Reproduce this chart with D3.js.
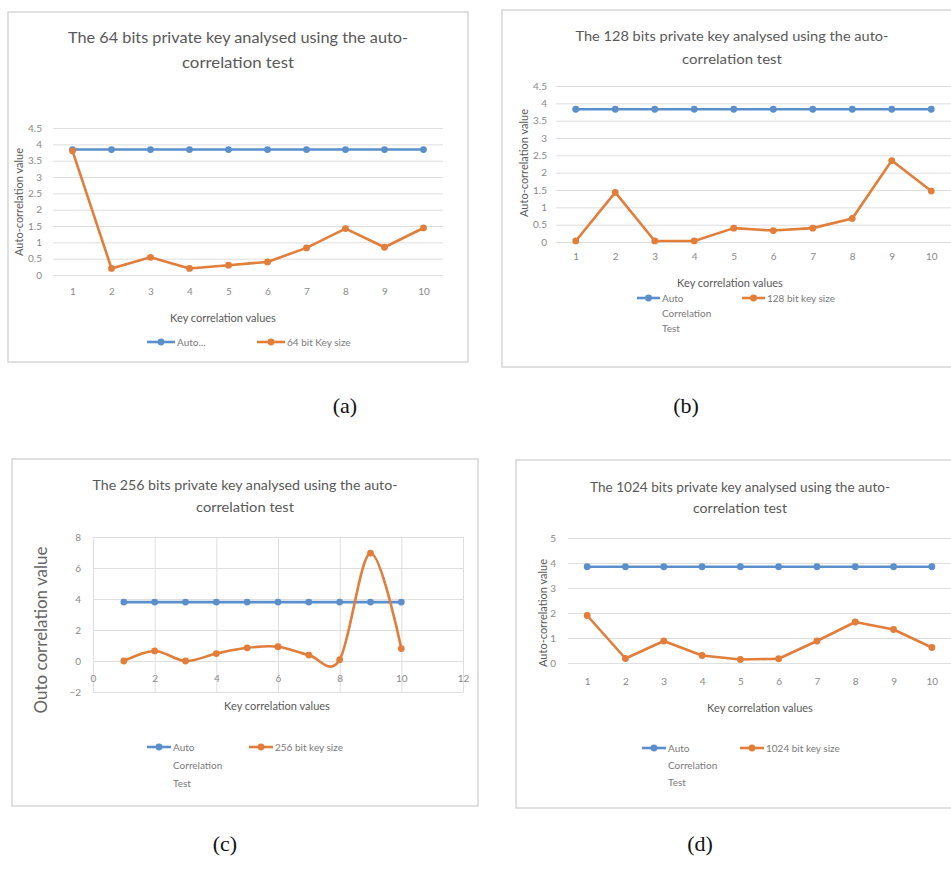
<!DOCTYPE html>
<html lang="en">
<head>
<meta charset="UTF-8">
<title>Auto-correlation test of private keys</title>
<script src="https://cdn.jsdelivr.net/npm/d3@7"></script>
<style>
    body{ margin:0; background:#fff; }
    .txt{ font-family: Lato, 'Open Sans', sans-serif; fill:#595959; }
    .tick text{ font-family: Lato, 'Open Sans', sans-serif; fill:#8a8a8a; font-size:10px; }
    .caption{ font-family: 'Liberation Serif', 'Times New Roman', serif; font-size:22px; fill:#111; }
</style>
</head>
<body>
<div id="chart"></div>
<script>
// x categories (key correlation values)
var keyPoints = [1, 2, 3, 4, 5, 6, 7, 8, 9, 10];

// (a) 64 bit
var auto64 = [3.84, 3.84, 3.84, 3.84, 3.84, 3.84, 3.84, 3.84, 3.84, 3.84];
var key64 = [3.8, 0.2, 0.54, 0.2, 0.3, 0.4, 0.83, 1.42, 0.85, 1.44];
// (b) 128 bit
var auto128 = [3.83, 3.83, 3.83, 3.83, 3.83, 3.83, 3.83, 3.83, 3.83, 3.83];
var key128 = [0.03, 1.43, 0.03, 0.03, 0.4, 0.33, 0.4, 0.68, 2.35, 1.47];
// (c) 256 bit
var auto256 = [3.8, 3.8, 3.8, 3.8, 3.8, 3.8, 3.8, 3.8, 3.8, 3.8];
var key256 = [0, 0.65, 0, 0.48, 0.85, 0.92, 0.38, 0.08, 6.96, 0.8];
// (d) 1024 bit
var auto1024 = [3.85, 3.85, 3.85, 3.85, 3.85, 3.85, 3.85, 3.85, 3.85, 3.85];
var key1024 = [1.9, 0.18, 0.88, 0.3, 0.14, 0.17, 0.88, 1.64, 1.34, 0.62];

// tick values
var yTicksHalf = [0, 0.5, 1, 1.5, 2, 2.5, 3, 3.5, 4, 4.5];
var yTicks256 = [-2, 0, 2, 4, 6, 8];
var xTicks256 = [0, 2, 4, 6, 8, 10, 12];
var yTicks1024 = [0, 1, 2, 3, 4, 5];

var blue = "#5b8fcb";
var orange = "#e27d3a";
var fmt = d3.format("~g");

var w = 951, h = 873;
var svg = d3.select("#chart").append("svg")
    .attr("width", w)
    .attr("height", h);

function panel(p){
    var g = svg.append("g");

    g.append("rect")
        .attr("x", p.box[0]).attr("y", p.box[1])
        .attr("width", p.box[2]).attr("height", p.box[3])
        .attr("fill", "#fff").attr("stroke", "#d6d6d6").attr("stroke-width", 1.5);

    // title (two lines)
    p.title.forEach(function(s, i){
        var t = g.append("text").attr("class", "txt")
            .attr("x", p.titleX).attr("y", p.titleY[i])
            .attr("text-anchor", "middle")
            .attr("dominant-baseline", "central")
            .style("font-size", p.titleSize + "px")
            .text(s);
        if (p.titleW[i]) t.attr("textLength", p.titleW[i]).attr("lengthAdjust", "spacingAndGlyphs");
    });

    var x;
    if (p.linearX) {
        x = d3.scaleLinear().domain([0, 12]).range([p.left, p.right]);
    } else {
        x = d3.scalePoint().domain(keyPoints).range([p.left, p.right]).padding(0.5);
    }
    var y = d3.scaleLinear().domain(p.yDomain).range([p.bottom, p.top]);

    // horizontal grid + y labels
    var ya = g.append("g")
        .attr("transform", "translate(" + p.left + ",0)")
        .call(d3.axisLeft(y).tickValues(p.yTicks).tickFormat(fmt)
            .tickSize(-(p.right - p.left)).tickPadding(p.yPad));
    ya.select(".domain").remove();
    ya.selectAll("line").attr("stroke", "#dedede");

    if (p.linearX) {
        // vertical grid
        var vg = g.append("g")
            .attr("transform", "translate(0," + p.bottom + ")")
            .call(d3.axisBottom(x).tickValues(xTicks256).tickSize(-(p.bottom - p.top)).tickFormat(""));
        vg.select(".domain").remove();
        vg.selectAll("line").attr("stroke", "#dedede");
        // labels under zero line
        var xa = g.append("g")
            .attr("transform", "translate(0," + y(0) + ")")
            .call(d3.axisBottom(x).tickValues(xTicks256).tickFormat(fmt).tickSize(0).tickPadding(p.xPad));
        xa.select(".domain").remove();
    } else {
        var xa2 = g.append("g")
            .attr("transform", "translate(0," + p.bottom + ")")
            .call(d3.axisBottom(x).tickSize(0).tickPadding(p.xPad));
        xa2.select(".domain").remove();
    }

    // axis titles
    g.append("text").attr("class", "txt")
        .attr("x", p.xTitle[0]).attr("y", p.xTitle[1])
        .attr("text-anchor", "middle").attr("dominant-baseline", "central")
        .style("font-size", "11px")
        .text("Key correlation values");

    g.append("text").attr("class", "txt")
        .attr("transform", "translate(" + p.yTitle[0] + "," + p.yTitle[1] + ") rotate(-90)")
        .attr("text-anchor", "middle").attr("dominant-baseline", "central")
        .style("font-size", p.yTitleSize + "px")
        .style("fill", p.yTitleColor || "#595959")
        .text(p.yTitleText);

    // series
    var series = [
        {vals: p.auto, color: blue, curve: d3.curveLinear},
        {vals: p.key, color: orange, curve: p.smooth ? d3.curveCardinal.tension(0) : d3.curveLinear}
    ];
    series.forEach(function(s){
        var line = d3.line()
            .x(function(d, i){ return x(keyPoints[i]); })
            .y(function(d){ return y(d); })
            .curve(s.curve);
        g.append("path").datum(s.vals)
            .attr("d", line)
            .attr("fill", "none")
            .attr("stroke", s.color)
            .attr("stroke-width", 2.6)
            .attr("stroke-linejoin", "round");
        g.selectAll(null).data(s.vals).enter().append("circle")
            .attr("cx", function(d, i){ return x(keyPoints[i]); })
            .attr("cy", function(d){ return y(d); })
            .attr("r", 3.4)
            .attr("fill", s.color);
    });

    // legend
    var leg = [
        {color: blue, x: p.legBlue, lines: p.legBlueText},
        {color: orange, x: p.legOrange, lines: [p.legOrangeText]}
    ];
    leg.forEach(function(l){
        g.append("line")
            .attr("x1", l.x).attr("x2", l.x + p.legLen)
            .attr("y1", p.legY).attr("y2", p.legY)
            .attr("stroke", l.color).attr("stroke-width", 2.6);
        g.append("circle")
            .attr("cx", l.x + p.legLen / 2).attr("cy", p.legY)
            .attr("r", 3.4).attr("fill", l.color);
        l.lines.forEach(function(s, i){
            g.append("text").attr("class", "txt")
                .attr("x", l.x + p.legLen + 2).attr("y", p.legY + i * p.legStep)
                .attr("dominant-baseline", "central")
                .style("font-size", "10px").style("fill", "#7a7a7a")
                .text(s);
        });
    });
}

panel({
    box: [8, 12, 460, 350],
    title: ["The 64 bits private key analysed using the auto-", "correlation test"],
    titleX: 238, titleY: [37, 62], titleSize: 15, titleW: [340, 112],
    left: 53, right: 443, top: 128, bottom: 275,
    yDomain: [0, 4.5], yTicks: yTicksHalf, yPad: 11, xPad: 13,
    xTitle: [223, 317], yTitle: [18, 202], yTitleSize: 11, yTitleText: "Auto-correlation value",
    auto: auto64, key: key64,
    legY: 342, legLen: 28, legStep: 15, legBlue: 147, legOrange: 257,
    legBlueText: ["Auto..."], legOrangeText: "64 bit Key size"
});

panel({
    box: [502, 10, 460, 357],
    title: ["The 128 bits private key analysed using the auto-", "correlation test"],
    titleX: 732, titleY: [35, 58], titleSize: 14, titleW: [313, 100],
    left: 556, right: 951, top: 86, bottom: 242,
    yDomain: [0, 4.5], yTicks: yTicksHalf, yPad: 9, xPad: 11,
    xTitle: [730, 282], yTitle: [523, 163], yTitleSize: 11, yTitleText: "Auto-correlation value",
    auto: auto128, key: key128,
    legY: 298, legLen: 23, legStep: 15, legBlue: 637, legOrange: 742,
    legBlueText: ["Auto", "Correlation", "Test"], legOrangeText: "128 bit key size"
});

panel({
    box: [12, 459, 466, 347],
    title: ["The 256 bits private key analysed using the auto-", "correlation test"],
    titleX: 245, titleY: [485, 507], titleSize: 13, titleW: [305, 98],
    linearX: true, smooth: true,
    left: 93, right: 463, top: 537, bottom: 692,
    yDomain: [-2, 8], yTicks: yTicks256, yPad: 12, xPad: 14,
    xTitle: [277, 705], yTitle: [40, 630], yTitleSize: 17, yTitleColor: "#666", yTitleText: "Outo correlation value",
    auto: auto256, key: key256,
    legY: 747, legLen: 24, legStep: 18, legBlue: 147, legOrange: 249,
    legBlueText: ["Auto", "Correlation", "Test"], legOrangeText: "256 bit key size"
});

panel({
    box: [516, 460, 440, 348],
    title: ["The 1024 bits private key analysed using the auto-", "correlation test"],
    titleX: 740, titleY: [487, 508], titleSize: 13, titleW: [300, 94],
    left: 568, right: 951, top: 538, bottom: 663,
    yDomain: [0, 5], yTicks: yTicks1024, yPad: 12, xPad: 15,
    xTitle: [760, 707], yTitle: [542, 613], yTitleSize: 11, yTitleText: "Auto-correlation value",
    auto: auto1024, key: key1024,
    legY: 748, legLen: 24, legStep: 17, legBlue: 642, legOrange: 740,
    legBlueText: ["Auto", "Correlation", "Test"], legOrangeText: "1024 bit key size"
});

// captions
var captions = [["(a)", 345, 405], ["(b)", 686, 405], ["(c)", 225, 843], ["(d)", 700, 843]];
svg.selectAll(".caption").data(captions).enter().append("text")
    .attr("class", "caption")
    .attr("x", function(d){ return d[1]; })
    .attr("y", function(d){ return d[2]; })
    .attr("text-anchor", "middle")
    .attr("dominant-baseline", "central")
    .text(function(d){ return d[0]; });
</script>
</body>
</html>
